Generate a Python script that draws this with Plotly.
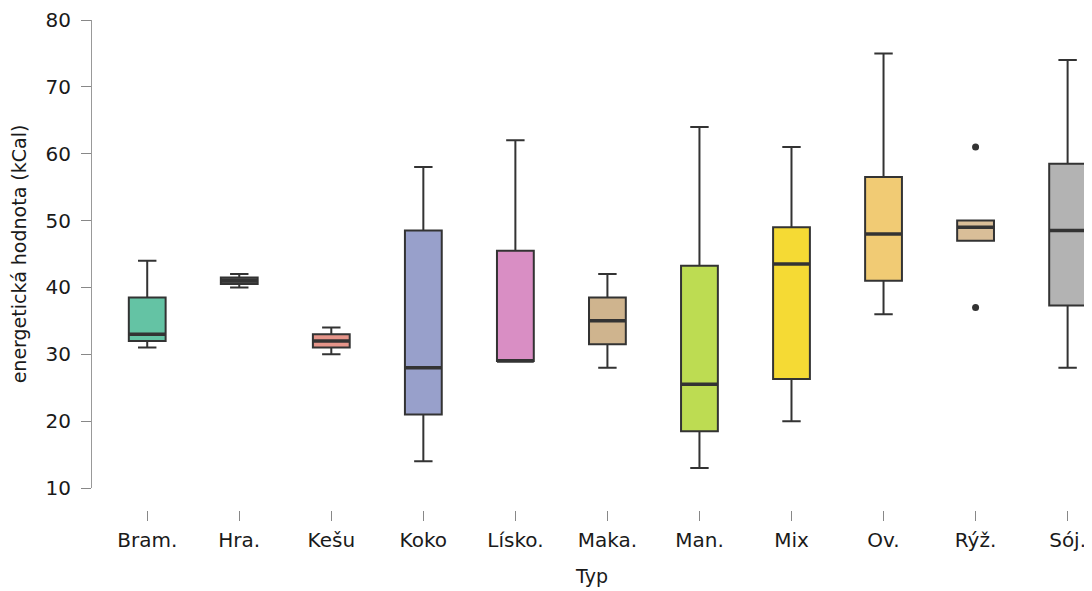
import plotly.graph_objects as go

categories = ["Bram.", "Hra.", "Kešu", "Koko", "Lísko.", "Maka.", "Man.", "Mix", "Ov.", "Rýž.", "Sój."]
lower = [31, 40, 30, 14, 29, 28, 13, 20, 36, 47, 28]
q1 = [32, 40.5, 31, 21, 29, 31.5, 18.5, 26.3, 41, 47, 37.3]
median = [33, 41, 32, 28, 29, 35, 25.5, 43.5, 48, 49, 48.5]
q3 = [38.5, 41.5, 33, 48.5, 45.5, 38.5, 43.25, 49, 56.5, 50, 58.5]
upper = [44, 42, 34, 58, 62, 42, 64, 61, 75, 50, 74]
colors = ["#64c3a4", "#555555", "#e6958a", "#98a0cb", "#d98ec4", "#cfb48e",
          "#bddc52", "#f5da34", "#f1cb74", "#d9be98", "#b3b3b3"]
outlier_cat = ["Rýž.", "Rýž."]
outlier_val = [61, 37]

FONT = "DejaVu Sans"
fig = go.Figure()
for i, c in enumerate(categories):
    fig.add_trace(go.Box(
        x=[c], q1=[q1[i]], median=[median[i]], q3=[q3[i]],
        lowerfence=[lower[i]], upperfence=[upper[i]],
        fillcolor=colors[i], line=dict(color="#333333", width=2),
        whiskerwidth=0.5, width=0.4, boxpoints=False, showlegend=False,
        hoverinfo="skip",
    ))
    fig.add_shape(type="line", xref="x", yref="y",
                  x0=i - 0.2, x1=i + 0.2, y0=median[i], y1=median[i],
                  line=dict(color="#333333", width=3.5))

fig.add_trace(go.Scatter(x=outlier_cat, y=outlier_val, mode="markers",
                         marker=dict(color="#333333", size=7), showlegend=False))

fig.update_layout(
    width=1084, height=583,
    margin=dict(l=84, r=0, t=12, b=81, autoexpand=False),
    paper_bgcolor="white", plot_bgcolor="white",
    font=dict(family=FONT, size=20, color="#1a1a1a"),
    xaxis=dict(type="category", categoryorder="array", categoryarray=categories,
               range=[-0.6, 10.265], anchor="free", position=0,
               showgrid=False, zeroline=False, showline=False,
               ticks="outside", ticklen=10, tickcolor="#888888", tickwidth=1,
               ticklabelstandoff=2,
               title=dict(text="Typ", font=dict(size=19), standoff=18)),
    yaxis=dict(range=[10, 80], domain=[0.0449, 1], dtick=10,
               showgrid=False, zeroline=False, showline=True,
               linecolor="#999999", linewidth=1,
               ticks="outside", ticklen=10, tickcolor="#888888", tickwidth=1,
               ticklabelstandoff=6,
               title=dict(text="energetická hodnota (kCal)", font=dict(size=19), standoff=13)),
)

fig.write_html("out.html")
